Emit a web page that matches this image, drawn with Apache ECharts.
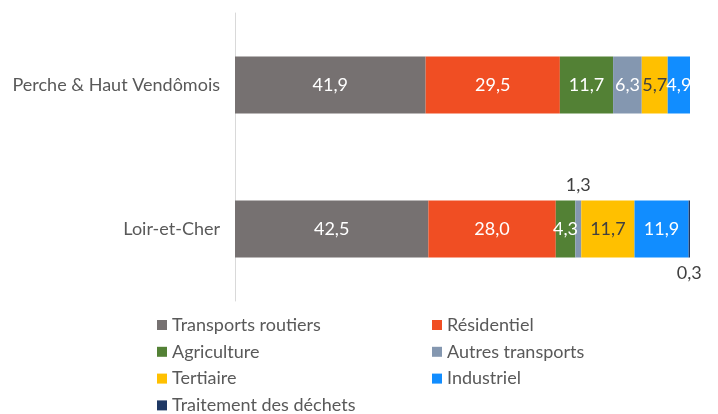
<!DOCTYPE html>
<html>
<head>
<meta charset="utf-8">
<script src="https://cdn.jsdelivr.net/npm/echarts@6/dist/echarts.min.js"></script>
<style>
  html, body { margin: 0; padding: 0; background: #fff; }
  #chart { width: 718px; height: 414px; }
</style>
</head>
<body>
<div id="chart"></div>
<script>
// Territories (top to bottom)
const territories = ['Perche & Haut Vendômois', 'Loir-et-Cher'];

// Sector names, in stacking order
const sectors = ['Transports routiers', 'Résidentiel', 'Agriculture', 'Autres transports',
                 'Tertiaire', 'Industriel', 'Traitement des déchets'];

// Share of emissions (%) per sector, one value per territory
const transportsRoutiers = [41.9, 42.5];
const residentiel        = [29.5, 28.0];
const agriculture        = [11.7, 4.3];
const autresTransports   = [6.3, 1.3];
const tertiaire          = [5.7, 11.7];
const industriel         = [4.9, 11.9];
const traitementDechets  = [0, 0.3];

const values = [transportsRoutiers, residentiel, agriculture, autresTransports,
                tertiaire, industriel, traitementDechets];

const colors = ['#767171', '#F04E23', '#538135', '#8497B0', '#FFC000', '#118DFF', '#1F3864'];
const labelColors = ['#ffffff', '#ffffff', '#ffffff', '#ffffff', '#404040', '#ffffff', '#ffffff'];

const FONT = 'Lato, "Open Sans", sans-serif';
const FS = 18;
const fmt = v => v.toFixed(1).replace('.', ',');

const series = sectors.map((name, si) => ({
  name: name,
  type: 'bar',
  stack: 'total',
  barWidth: 57,
  itemStyle: { color: colors[si] },
  label: {
    show: true,
    position: 'inside',
    color: labelColors[si],
    fontFamily: FONT,
    fontSize: FS,
    formatter: p => fmt(p.value)
  },
  data: values[si].map((v, ci) => {
    const item = { value: v };
    if (v === 0) {
      item.label = { show: false };
    } else if (v < 1) {
      item.label = { position: 'bottom', distance: 7, color: '#404040' };
    } else if (v < 2) {
      item.label = { position: 'top', distance: 6, color: '#404040' };
    }
    return item;
  })
}));

const legendText = { color: '#595959', fontSize: FS, fontFamily: FONT, lineHeight: 20 };

const chart = echarts.init(document.getElementById('chart'));
chart.setOption({
  animation: false,
  textStyle: { fontFamily: FONT },
  grid: { left: 235, right: 28, top: 13, height: 288, containLabel: false },
  xAxis: {
    type: 'value', min: 0, max: 100, show: false
  },
  yAxis: {
    type: 'category',
    data: territories,
    inverse: true,
    axisLine: { show: true, lineStyle: { color: '#d9d9d9', width: 1 } },
    axisTick: { show: false },
    axisLabel: { color: '#595959', fontSize: FS, fontFamily: FONT, margin: 15 }
  },
  legend: [
    {
      data: [sectors[0], sectors[2], sectors[4], sectors[6]],
      orient: 'vertical', left: 152, top: 315, height: 120, padding: [0, 5],
      itemWidth: 10, itemHeight: 10, itemGap: 6.8,
      icon: 'rect',
      textStyle: legendText
    },
    {
      data: [sectors[1], sectors[3], sectors[5]],
      orient: 'vertical', left: 427, top: 315, height: 120, padding: [0, 5],
      itemWidth: 10, itemHeight: 10, itemGap: 6.8,
      icon: 'rect',
      textStyle: legendText
    }
  ],
  series: series
});
</script>
</body>
</html>
